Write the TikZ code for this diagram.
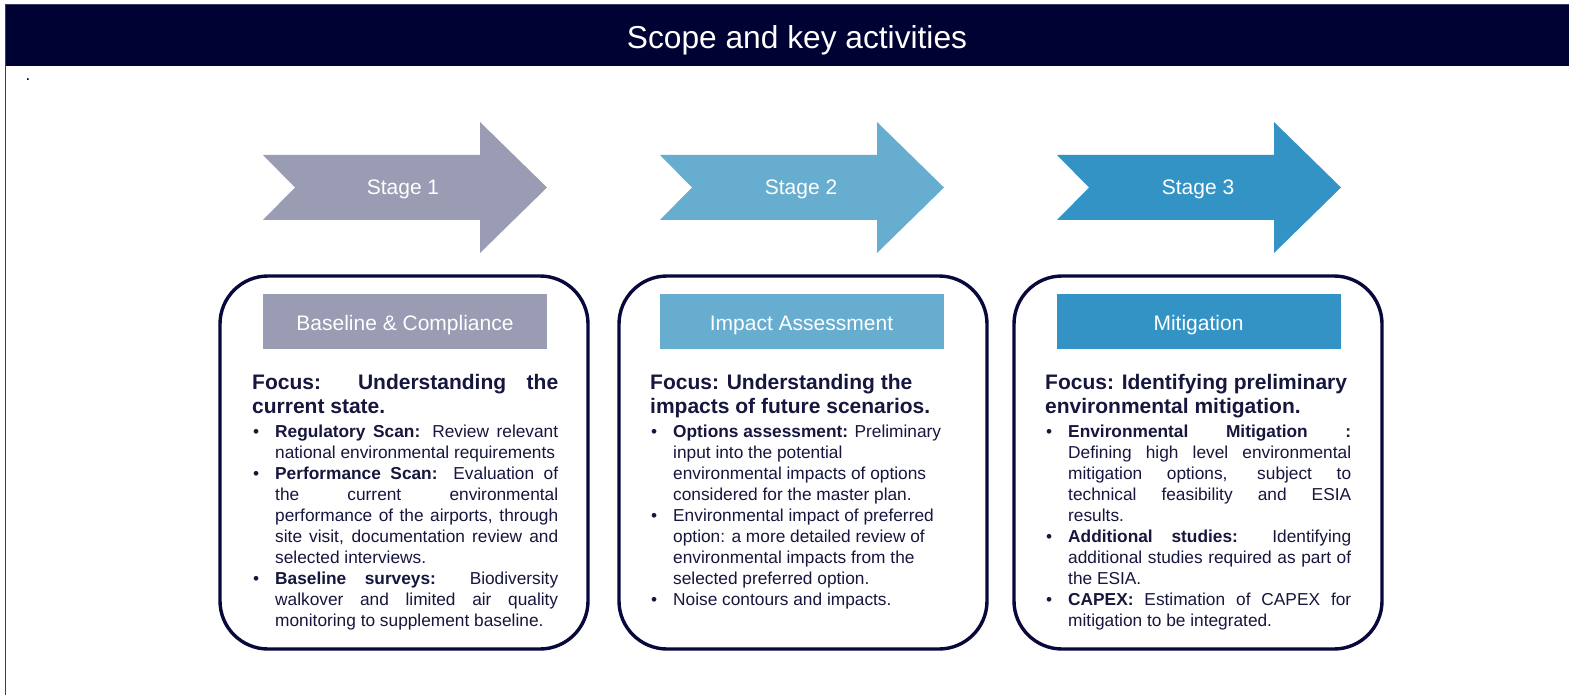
\documentclass[tikz,border=0pt]{standalone}
\usepackage{fontspec}
\setmainfont{Liberation Sans}
\definecolor{hdr}{RGB}{0,2,51}
\definecolor{sone}{RGB}{153,156,179}
\definecolor{stwo}{RGB}{103,173,208}
\definecolor{sthree}{RGB}{50,147,196}
\definecolor{navyline}{RGB}{8,8,60}
\definecolor{txt}{RGB}{22,22,62}
\definecolor{framec}{RGB}{60,60,105}

\newcommand{\boxhead}[1]{\tolerance=10000\hbadness=10000\hyphenpenalty=10000\exhyphenpenalty=10000%
  \fontsize{21}{24}\selectfont\bfseries\noindent\rule{0pt}{16pt}#1\par\vskip3pt\fontsize{17.3}{21}\selectfont\mdseries}
\newcommand{\bitem}[1]{\par\hangindent=23pt\hangafter=1\noindent\hbox to 23pt{\hskip1pt\textbullet\hfil}#1\par}
\newcommand{\stagearrowpath}[2]{\fill[#2] ({263+#1},155) -- ({480+#1},155) -- ({480+#1},122) -- ({547+#1},187.5) -- ({480+#1},253) -- ({480+#1},220) -- ({263+#1},220) -- ({295+#1},187.5) -- cycle;}

\tikzset{
  stagelbl/.style={anchor=base, text=white, font=\fontsize{21}{25}\selectfont, inner sep=0},
  tbar/.style={fill=#1, minimum width=284pt, minimum height=55pt, inner sep=0, text=white,
    font=\fontsize{21}{25}\selectfont, text height=17pt, text depth=0pt},
  rbox/.style={draw=navyline, line width=3.4pt, rounded corners=48pt, minimum width=368pt, minimum height=373pt, inner sep=0},
  btext/.style={anchor=north west, inner sep=0, text width=306pt, text=txt, align=justify},
}

\begin{document}
\begin{tikzpicture}[x=1pt,y=-1pt]
\useasboundingbox (0,0) rectangle (1569,695);
\fill[white] (0,0) rectangle (1569,695);
% header
\fill[hdr] (5,5) rectangle (1569,66);
\draw[framec, line width=1.3pt] (5.5,695) -- (5.5,4.6) -- (1569,4.6);
\node[anchor=base, text=white, font=\fontsize{31.7}{36}\selectfont, inner sep=0] (title) at (797,49) {Scope and key activities};
\node[anchor=base, font=\fontsize{17}{20}\selectfont, inner sep=0] (dot) at (28,81) {.};

% stage arrows
\stagearrowpath{0}{sone}
\stagearrowpath{397}{stwo}
\stagearrowpath{794}{sthree}
\node[stagelbl] (s1) at (403,195) {Stage 1};
\node[stagelbl] (s2) at (801,195) {Stage 2};
\node[stagelbl] (s3) at (1198,195) {Stage 3};

% rounded boxes
\node[rbox] (b1) at (404,462.5) {};
\node[rbox] (b2) at (803,462.5) {};
\node[rbox] (b3) at (1198,462.5) {};

% title bars
\node[tbar=sone] (t1) at (405,321.5) {Baseline \& Compliance};
\node[tbar=stwo] (t2) at (801.5,321.5) {Impact Assessment};
\node[tbar=sthree] (t3) at (1198.5,321.5) {Mitigation};

% texts
\node[btext] (x1) at (252,373) {\boxhead{Focus: Understanding the\linebreak current state.}%
\bitem{\textbf{Regulatory Scan:} Review relevant\linebreak national environmental requirements}%
\bitem{\textbf{Performance Scan:} Evaluation of\linebreak the current environmental\linebreak performance of the airports, through\linebreak site visit, documentation review and\linebreak selected interviews.}%
\bitem{\textbf{Baseline surveys:} Biodiversity\linebreak walkover and limited air quality\linebreak monitoring to supplement baseline.}};

\node[btext] (x2) at (650,373) {\raggedright\boxhead{Focus: Understanding the\newline impacts of future scenarios.}%
\bitem{\textbf{Options assessment:} Preliminary\newline input into the potential\newline environmental impacts of options\newline considered for the master plan.}%
\bitem{Environmental impact of preferred\newline option: a more detailed review of\newline environmental impacts from the\newline selected preferred option.}%
\bitem{Noise contours and impacts.}};

\node[btext] (x3) at (1045,373) {\boxhead{Focus: Identifying preliminary\newline environmental mitigation.}%
\bitem{\textbf{Environmental Mitigation :}\linebreak Defining high level environmental\linebreak mitigation options, subject to\linebreak technical feasibility and ESIA\linebreak results.}%
\bitem{\textbf{Additional studies:} Identifying\linebreak additional studies required as part of\linebreak the ESIA.}%
\bitem{\textbf{CAPEX:} Estimation of CAPEX for\linebreak mitigation to be integrated.}};
\end{tikzpicture}
\end{document}
